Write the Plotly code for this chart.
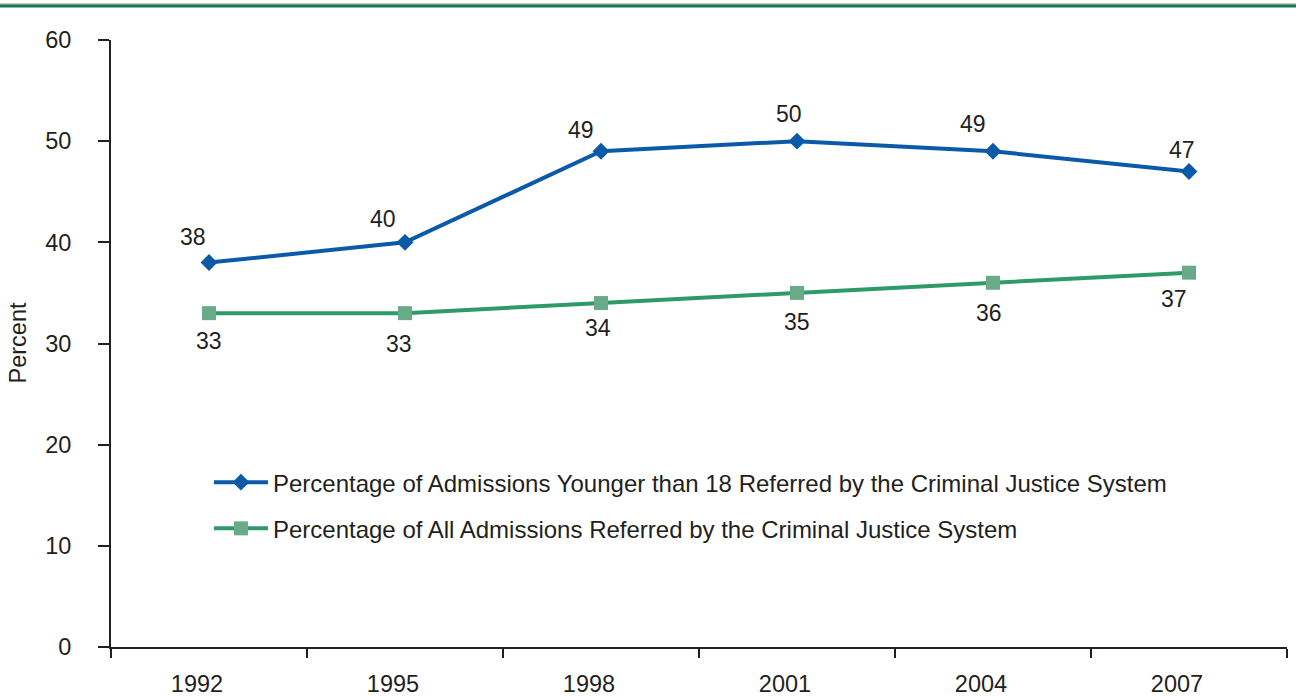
import plotly.graph_objects as go

years = ["1992", "1995", "1998", "2001", "2004", "2007"]
youth_pct = [38, 40, 49, 50, 49, 47]
all_pct = [33, 33, 34, 35, 36, 37]
youth_name = "Percentage of Admissions Younger than 18 Referred by the Criminal Justice System"
all_name = "Percentage of All Admissions Referred by the Criminal Justice System"
y_ticks = [0, 10, 20, 30, 40, 50, 60]

# label offsets (pixels) - styling only
youth_dx = [-16, -22, -20, -8, -20, -7]
youth_dy = [26, 23, 21, 27, 27, 22]
all_dx = [0, -6, -3, 0, -4, -15]
all_dy = [-28, -31, -25, -29, -30, -26]

BLUE = "#0a5aa8"
GREEN = "#2f9a69"
GREEN_M = "#69ab89"
TXT = "#231f20"
FONT = "Liberation Sans, Arial, sans-serif"

fig = go.Figure()
fig.add_trace(go.Scatter(
    x=years, y=youth_pct, name=youth_name, mode="lines+markers",
    line=dict(color=BLUE, width=4),
    marker=dict(symbol="diamond", size=13, color=BLUE),
    legendgroup="a", cliponaxis=False,
))
fig.add_trace(go.Scatter(
    x=years, y=all_pct, name=all_name, mode="lines+markers",
    line=dict(color=GREEN, width=4),
    marker=dict(symbol="square", size=14, color=GREEN_M),
    legendgroup="b", cliponaxis=False,
))

annotations = []
for i, yr in enumerate(years):
    annotations.append(dict(x=i, y=youth_pct[i], text=str(youth_pct[i]), showarrow=False,
                            xref="x", yref="y",
                            xshift=youth_dx[i], yshift=youth_dy[i],
                            font=dict(size=23, color=TXT, family=FONT)))
    annotations.append(dict(x=i, y=all_pct[i], text=str(all_pct[i]), showarrow=False,
                            xref="x", yref="y",
                            xshift=all_dx[i], yshift=all_dy[i],
                            font=dict(size=23, color=TXT, family=FONT)))
annotations.append(dict(xref="paper", yref="paper", x=-94 / 1176, y=0.5, text="Percent",
                        textangle=-90, showarrow=False, xanchor="center", yanchor="middle",
                        font=dict(size=23.5, color=TXT, family=FONT)))

fig.update_layout(
    width=1296, height=698,
    margin=dict(l=111, r=9, t=40, b=51, autoexpand=False),
    paper_bgcolor="white", plot_bgcolor="white",
    font=dict(family=FONT, color=TXT, size=23.5),
    showlegend=True,
    legend=dict(x=0.0833, y=0.308, xanchor="left", yanchor="top",
                bgcolor="rgba(0,0,0,0)", font=dict(size=24, color=TXT),
                traceorder="grouped", tracegroupgap=12, itemwidth=54),
    annotations=annotations,
    shapes=[
        dict(type="line", xref="paper", yref="paper", x0=-0.1, x1=1.01,
             ysizemode="pixel", yanchor=1, y0=36, y1=36,
             line=dict(color="#8c8c7c", width=1)),
        dict(type="line", xref="paper", yref="paper", x0=-0.1, x1=1.01,
             ysizemode="pixel", yanchor=1, y0=34, y1=34,
             line=dict(color="#17794b", width=3)),
    ],
)
fig.update_xaxes(
    type="category", range=[-0.5, 5.5], tickson="boundaries", automargin=False,
    showline=True, linecolor=TXT, linewidth=2,
    ticks="outside", ticklen=9, tickwidth=2, tickcolor=TXT,
    showgrid=False, zeroline=False,
    tickfont=dict(size=23.5, color=TXT), ticklabelstandoff=15, ticklabelshift=-12,
)
fig.update_yaxes(
    range=[0, 60], tickvals=y_ticks, automargin=False,
    showline=True, linecolor=TXT, linewidth=2,
    ticks="outside", ticklen=11, tickwidth=2, tickcolor=TXT,
    showgrid=False, zeroline=False,
    tickfont=dict(size=23.5, color=TXT), ticklabelstandoff=22,
)

fig.write_html("out.html")
